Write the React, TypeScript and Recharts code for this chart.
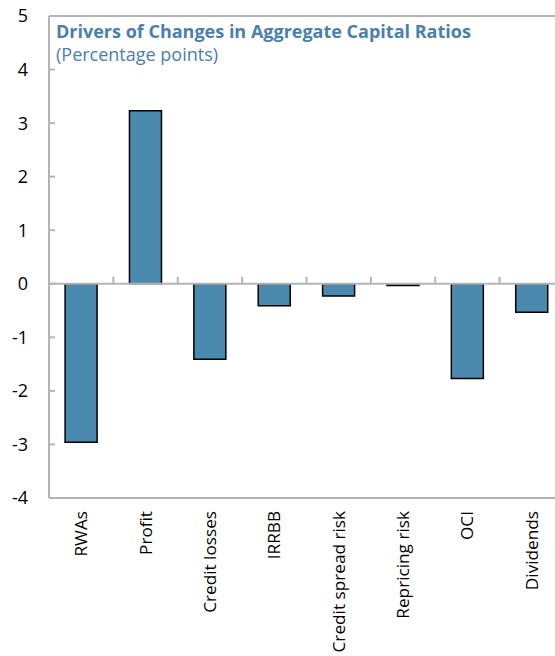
import React from 'react'
import { BarChart, Bar, XAxis, YAxis, ReferenceLine } from 'recharts'

// capital ratio drivers, percentage points
const drivers = ['RWAs', 'Profit', 'Credit losses', 'IRRBB', 'Credit spread risk', 'Repricing risk', 'OCI', 'Dividends']
const changes = [-2.96, 3.23, -1.41, -0.41, -0.23, -0.03, -1.77, -0.53]
const yTicks = [-4, -3, -2, -1, 0, 1, 2, 3, 4, 5]

const data = drivers.map((name, i) => ({ name, value: changes[i] }))

const FONT = '"Open Sans", Lato, sans-serif'
const FRAME = '#b4b4b4'
const BAR = '#4a8aaf'
const TITLE = '#4a80ad'

const YTick = (props: any) => {
  const { x, y, payload } = props
  return (
    <g>
      <line x1={x + 21} x2={x + 27} y1={y} y2={y} stroke={FRAME} strokeWidth={2} />
      <text x={x} y={y} dy="0.36em" textAnchor="end" fontFamily={FONT} fontSize={18} fill="#000">
        {payload.value}
      </text>
    </g>
  )
}

const XTick = (props: any) => {
  const { x, y, payload } = props
  return (
    <text
      transform={`translate(${x + 6},${y}) rotate(-90)`}
      textAnchor="end"
      fontFamily={FONT}
      fontSize={17.2}
      fill="#000"
    >
      {payload.value}
    </text>
  )
}

// zero line with small category divider ticks pointing up
const ZeroLine = (props: any) => {
  const { x1, x2, y1 } = props
  const step = (x2 - x1) / drivers.length
  return (
    <g>
      <line x1={x1} x2={x2} y1={y1} y2={y1} stroke={FRAME} strokeWidth={2} />
      {drivers.slice(1).map((d, i) => (
        <line key={d} x1={x1 + step * (i + 1)} x2={x1 + step * (i + 1)} y1={y1} y2={y1 - 7} stroke={FRAME} strokeWidth={2} />
      ))}
    </g>
  )
}

export default function App() {
  return (
    <div style={{ position: 'fixed', left: 0, top: 0, width: 555, height: 656, overflow: 'hidden', background: '#fff' }}>
      <BarChart
        width={580}
        height={656}
        data={data}
        margin={{ top: 16, right: 16, bottom: 0, left: 0 }}
        barCategoryGap="25%"
      >
        <YAxis
          width={49}
          domain={[-4, 5]}
          ticks={yTicks}
          interval={0}
          tickSize={0}
          tickMargin={21}
          tickLine={false}
          axisLine={{ stroke: FRAME, strokeWidth: 2 }}
          tick={<YTick />}
        />
        <XAxis
          dataKey="name"
          height={158}
          interval={0}
          tickSize={0}
          tickMargin={13}
          tickLine={false}
          axisLine={{ stroke: FRAME, strokeWidth: 2 }}
          tick={<XTick />}
        />
        <ReferenceLine y={5} stroke={FRAME} strokeWidth={2} />
        <Bar dataKey="value" fill={BAR} stroke="#000" strokeWidth={1.5} isAnimationActive={false} />
        <ReferenceLine y={0} shape={<ZeroLine />} />
      </BarChart>
      <div style={{ position: 'absolute', left: 56, top: 20, fontFamily: FONT, color: TITLE, lineHeight: '23px' }}>
        <div style={{ fontWeight: 700, fontSize: 18 }}>Drivers of Changes in Aggregate Capital Ratios</div>
        <div style={{ fontSize: 18 }}>(Percentage points)</div>
      </div>
    </div>
  )
}
